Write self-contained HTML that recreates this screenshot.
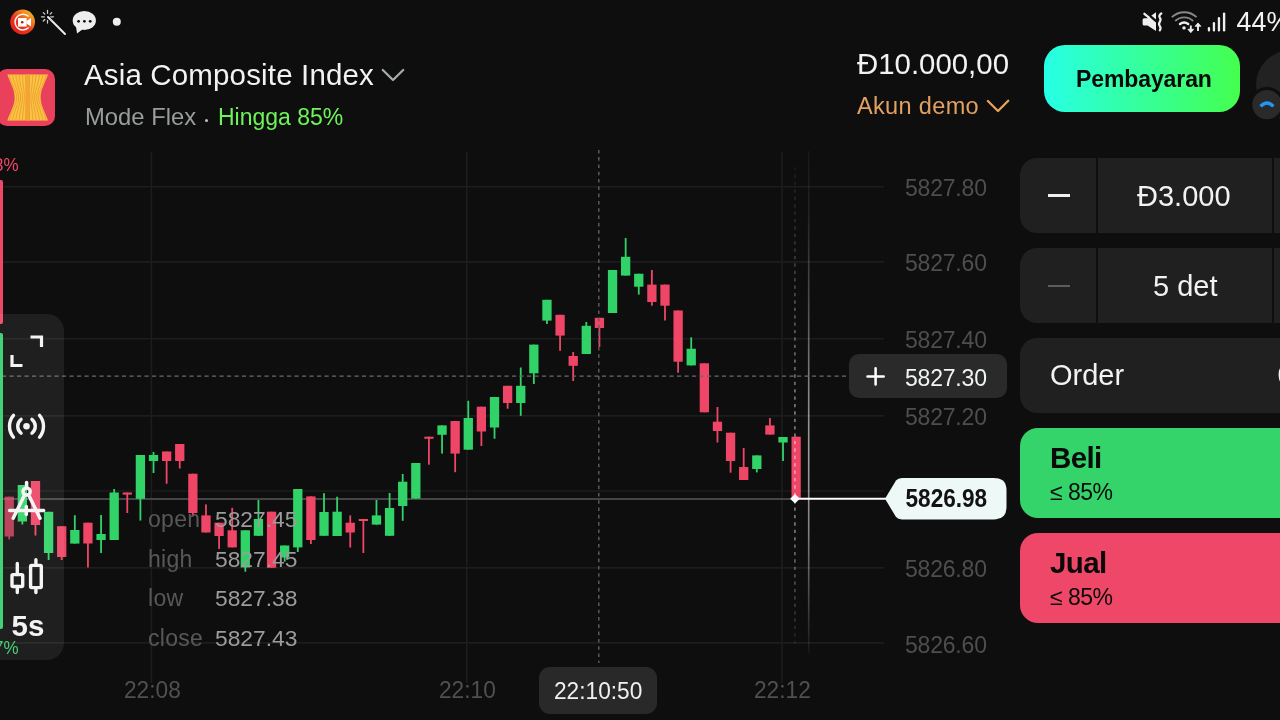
<!DOCTYPE html>
<html><head><meta charset="utf-8">
<style>
*{margin:0;padding:0;box-sizing:border-box}
html,body{width:1280px;height:720px;overflow:hidden;background:#0e0e0e;font-family:"Liberation Sans",sans-serif;color:#f2f2f2}
.a{position:absolute;white-space:nowrap}
#chart{position:absolute;left:0;top:0}
.ax{font-size:23px;letter-spacing:-0.2px;color:#4e4e4e}
.tl{font-size:22.7px;color:#505050;transform:scaleY(1.06);transform-origin:0 0}
.ohl{font-size:23px;letter-spacing:0.3px;color:#585858}
.ohv{font-size:22.8px;color:#9c9c9c}
.box{position:absolute;background:#202020;border-radius:17px}
</style></head><body><div id="root" style="position:absolute;left:0;top:0;width:1280px;height:720px;will-change:transform">
<svg id="chart" width="1280" height="720" viewBox="0 0 1280 720">
<!-- grid -->
<g stroke="#1d1d1d" stroke-width="1.6">
<line x1="0" y1="186.7" x2="884" y2="186.7"/>
<line x1="0" y1="261.9" x2="884" y2="261.9"/>
<line x1="0" y1="338.8" x2="884" y2="338.8"/>
<line x1="0" y1="415.9" x2="884" y2="415.9"/>
<line x1="0" y1="491" x2="884" y2="491"/>
<line x1="0" y1="567.9" x2="884" y2="567.9"/>
<line x1="0" y1="642.9" x2="884" y2="642.9"/>
<line x1="151.4" y1="152" x2="151.4" y2="683"/>
<line x1="466.8" y1="152" x2="466.8" y2="683"/>
<line x1="781.9" y1="152" x2="781.9" y2="683"/>
</g>
<!-- current price line gray -->
<line x1="0" y1="498.9" x2="795" y2="498.9" stroke="#454545" stroke-width="2"/>
<!-- current time vertical line -->
<defs>
<linearGradient id="vg1" gradientUnits="userSpaceOnUse" x1="0" y1="151" x2="0" y2="654">
<stop offset="0" stop-color="#fff" stop-opacity="0.04"/>
<stop offset="0.14" stop-color="#fff" stop-opacity="0.1"/>
<stop offset="0.31" stop-color="#fff" stop-opacity="0.28"/>
<stop offset="0.48" stop-color="#fff" stop-opacity="0.5"/>
<stop offset="0.6" stop-color="#fff" stop-opacity="0.6"/>
<stop offset="0.76" stop-color="#fff" stop-opacity="0.48"/>
<stop offset="0.9" stop-color="#fff" stop-opacity="0.22"/>
<stop offset="1" stop-color="#fff" stop-opacity="0.04"/>
</linearGradient>
<linearGradient id="vg2" gradientUnits="userSpaceOnUse" x1="0" y1="165" x2="0" y2="646">
<stop offset="0" stop-color="#fff" stop-opacity="0.06"/>
<stop offset="0.12" stop-color="#fff" stop-opacity="0.12"/>
<stop offset="0.3" stop-color="#fff" stop-opacity="0.3"/>
<stop offset="0.48" stop-color="#fff" stop-opacity="0.45"/>
<stop offset="0.6" stop-color="#fff" stop-opacity="0.5"/>
<stop offset="0.77" stop-color="#fff" stop-opacity="0.45"/>
<stop offset="0.91" stop-color="#fff" stop-opacity="0.2"/>
<stop offset="1" stop-color="#fff" stop-opacity="0.06"/>
</linearGradient>
</defs>
<line x1="808.7" y1="151" x2="808.7" y2="654" stroke="url(#vg1)" stroke-width="1.6"/>
<!-- CANDLES -->
<g fill="#ef4566" opacity="0.75"><rect x="8.35" y="496.70" width="1.8" height="42.70"/><rect x="4.60" y="496.70" width="9.3" height="39.80"/></g>
<g fill="#31d368"><rect x="21.47" y="485.00" width="1.8" height="39.50"/><rect x="17.71" y="485.00" width="9.3" height="36.50"/></g>
<g fill="#ef4566"><rect x="34.58" y="481.00" width="1.8" height="54.50"/><rect x="30.83" y="481.00" width="9.3" height="44.00"/></g>
<g fill="#31d368"><rect x="47.70" y="511.80" width="1.8" height="48.20"/><rect x="43.95" y="511.80" width="9.3" height="41.20"/></g>
<g fill="#ef4566"><rect x="60.81" y="526.20" width="1.8" height="33.80"/><rect x="57.06" y="526.20" width="9.3" height="30.80"/></g>
<g fill="#31d368"><rect x="73.92" y="515.20" width="1.8" height="28.40"/><rect x="70.17" y="530.00" width="9.3" height="13.60"/></g>
<g fill="#ef4566"><rect x="87.04" y="522.70" width="1.8" height="44.80"/><rect x="83.29" y="522.70" width="9.3" height="20.80"/></g>
<g fill="#31d368"><rect x="100.16" y="515.00" width="1.8" height="38.00"/><rect x="96.41" y="534.00" width="9.3" height="6.00"/></g>
<g fill="#31d368"><rect x="113.27" y="489.00" width="1.8" height="51.00"/><rect x="109.52" y="492.50" width="9.3" height="47.50"/></g>
<g fill="#ef4566"><rect x="126.38" y="492.50" width="1.8" height="20.50"/><rect x="122.63" y="492.50" width="9.3" height="2.10"/></g>
<g fill="#31d368"><rect x="139.50" y="455.00" width="1.8" height="65.60"/><rect x="135.75" y="455.00" width="9.3" height="43.75"/></g>
<g fill="#31d368"><rect x="152.62" y="452.00" width="1.8" height="21.00"/><rect x="148.87" y="455.00" width="9.3" height="6.00"/></g>
<g fill="#ef4566"><rect x="165.73" y="451.50" width="1.8" height="32.25"/><rect x="161.98" y="451.50" width="9.3" height="9.50"/></g>
<g fill="#ef4566"><rect x="178.84" y="444.00" width="1.8" height="24.50"/><rect x="175.09" y="444.00" width="9.3" height="17.00"/></g>
<g fill="#ef4566"><rect x="191.96" y="473.75" width="1.8" height="42.75"/><rect x="188.21" y="473.75" width="9.3" height="39.25"/></g>
<g fill="#ef4566"><rect x="205.07" y="504.40" width="1.8" height="28.10"/><rect x="201.32" y="515.40" width="9.3" height="17.10"/></g>
<g fill="#ef4566"><rect x="218.19" y="522.70" width="1.8" height="26.30"/><rect x="214.44" y="522.70" width="9.3" height="13.30"/></g>
<g fill="#ef4566"><rect x="231.31" y="507.80" width="1.8" height="39.60"/><rect x="227.56" y="530.30" width="9.3" height="17.10"/></g>
<g fill="#31d368"><rect x="244.42" y="530.30" width="1.8" height="41.40"/><rect x="240.67" y="530.30" width="9.3" height="37.20"/></g>
<g fill="#31d368"><rect x="257.54" y="500.00" width="1.8" height="35.80"/><rect x="253.78" y="519.00" width="9.3" height="16.80"/></g>
<g fill="#ef4566"><rect x="270.65" y="511.70" width="1.8" height="56.10"/><rect x="266.90" y="511.70" width="9.3" height="56.10"/></g>
<g fill="#31d368"><rect x="283.77" y="545.50" width="1.8" height="16.20"/><rect x="280.02" y="545.50" width="9.3" height="12.00"/></g>
<g fill="#31d368"><rect x="296.88" y="489.00" width="1.8" height="63.00"/><rect x="293.13" y="489.00" width="9.3" height="58.40"/></g>
<g fill="#ef4566"><rect x="310.00" y="496.40" width="1.8" height="47.60"/><rect x="306.25" y="496.40" width="9.3" height="43.60"/></g>
<g fill="#31d368"><rect x="323.11" y="493.20" width="1.8" height="42.60"/><rect x="319.36" y="512.00" width="9.3" height="23.80"/></g>
<g fill="#31d368"><rect x="336.23" y="496.70" width="1.8" height="39.30"/><rect x="332.48" y="511.70" width="9.3" height="24.30"/></g>
<g fill="#ef4566"><rect x="349.34" y="515.40" width="1.8" height="32.10"/><rect x="345.59" y="522.70" width="9.3" height="9.80"/></g>
<g fill="#ef4566"><rect x="362.46" y="519.00" width="1.8" height="34.00"/><rect x="358.71" y="519.00" width="9.3" height="2.00"/></g>
<g fill="#31d368"><rect x="375.57" y="500.00" width="1.8" height="24.60"/><rect x="371.82" y="515.40" width="9.3" height="9.20"/></g>
<g fill="#31d368"><rect x="388.69" y="493.00" width="1.8" height="42.80"/><rect x="384.94" y="508.00" width="9.3" height="27.80"/></g>
<g fill="#31d368"><rect x="401.80" y="474.00" width="1.8" height="46.80"/><rect x="398.05" y="481.70" width="9.3" height="24.30"/></g>
<g fill="#31d368"><rect x="414.92" y="463.00" width="1.8" height="35.60"/><rect x="411.17" y="463.00" width="9.3" height="35.60"/></g>
<g fill="#ef4566"><rect x="428.03" y="436.70" width="1.8" height="28.00"/><rect x="424.28" y="436.70" width="9.3" height="2.05"/></g>
<g fill="#31d368"><rect x="441.15" y="425.40" width="1.8" height="28.20"/><rect x="437.40" y="425.40" width="9.3" height="9.40"/></g>
<g fill="#ef4566"><rect x="454.26" y="421.00" width="1.8" height="51.20"/><rect x="450.51" y="421.00" width="9.3" height="32.60"/></g>
<g fill="#31d368"><rect x="467.38" y="400.80" width="1.8" height="48.90"/><rect x="463.63" y="418.00" width="9.3" height="31.70"/></g>
<g fill="#ef4566"><rect x="480.49" y="406.70" width="1.8" height="39.30"/><rect x="476.74" y="406.70" width="9.3" height="24.80"/></g>
<g fill="#31d368"><rect x="493.61" y="397.00" width="1.8" height="41.75"/><rect x="489.86" y="397.00" width="9.3" height="30.50"/></g>
<g fill="#ef4566"><rect x="506.72" y="385.80" width="1.8" height="22.95"/><rect x="502.97" y="385.80" width="9.3" height="17.20"/></g>
<g fill="#31d368"><rect x="519.84" y="367.50" width="1.8" height="48.30"/><rect x="516.09" y="385.80" width="9.3" height="17.20"/></g>
<g fill="#31d368"><rect x="532.95" y="344.60" width="1.8" height="39.40"/><rect x="529.20" y="344.60" width="9.3" height="28.70"/></g>
<g fill="#31d368"><rect x="546.07" y="299.80" width="1.8" height="24.20"/><rect x="542.32" y="299.80" width="9.3" height="20.80"/></g>
<g fill="#ef4566"><rect x="559.18" y="314.80" width="1.8" height="36.00"/><rect x="555.43" y="314.80" width="9.3" height="20.80"/></g>
<g fill="#ef4566"><rect x="572.30" y="352.00" width="1.8" height="29.00"/><rect x="568.55" y="356.00" width="9.3" height="9.80"/></g>
<g fill="#31d368"><rect x="585.41" y="322.00" width="1.8" height="32.00"/><rect x="581.66" y="325.80" width="9.3" height="28.20"/></g>
<g fill="#ef4566"><rect x="598.52" y="317.80" width="1.8" height="29.20"/><rect x="594.77" y="317.80" width="9.3" height="10.20"/></g>
<g fill="#31d368"><rect x="611.64" y="270.00" width="1.8" height="43.00"/><rect x="607.89" y="270.00" width="9.3" height="43.00"/></g>
<g fill="#31d368"><rect x="624.75" y="238.00" width="1.8" height="37.60"/><rect x="621.00" y="256.80" width="9.3" height="18.80"/></g>
<g fill="#31d368"><rect x="637.87" y="273.75" width="1.8" height="20.85"/><rect x="634.12" y="273.75" width="9.3" height="12.95"/></g>
<g fill="#ef4566"><rect x="650.99" y="270.00" width="1.8" height="35.70"/><rect x="647.24" y="284.60" width="9.3" height="17.40"/></g>
<g fill="#ef4566"><rect x="664.10" y="284.60" width="1.8" height="35.90"/><rect x="660.35" y="284.60" width="9.3" height="21.10"/></g>
<g fill="#ef4566"><rect x="677.22" y="310.50" width="1.8" height="62.20"/><rect x="673.47" y="310.50" width="9.3" height="51.20"/></g>
<g fill="#31d368"><rect x="690.33" y="337.30" width="1.8" height="28.10"/><rect x="686.58" y="348.75" width="9.3" height="16.65"/></g>
<g fill="#ef4566"><rect x="703.45" y="363.30" width="1.8" height="49.00"/><rect x="699.70" y="363.30" width="9.3" height="49.00"/></g>
<g fill="#ef4566"><rect x="716.56" y="407.00" width="1.8" height="35.50"/><rect x="712.81" y="421.70" width="9.3" height="9.30"/></g>
<g fill="#ef4566"><rect x="729.68" y="432.70" width="1.8" height="40.00"/><rect x="725.93" y="432.70" width="9.3" height="28.30"/></g>
<g fill="#ef4566"><rect x="742.79" y="448.00" width="1.8" height="32.00"/><rect x="739.04" y="467.00" width="9.3" height="13.00"/></g>
<g fill="#31d368"><rect x="755.91" y="455.40" width="1.8" height="17.00"/><rect x="752.16" y="455.40" width="9.3" height="13.60"/></g>
<g fill="#ef4566"><rect x="769.02" y="418.00" width="1.8" height="16.60"/><rect x="765.27" y="425.40" width="9.3" height="9.20"/></g>
<g fill="#31d368"><rect x="782.13" y="437.00" width="1.8" height="24.00"/><rect x="778.38" y="437.00" width="9.3" height="5.50"/></g>
<g fill="#ef4566"><rect x="795.25" y="436.70" width="1.8" height="61.30"/><rect x="791.50" y="436.70" width="9.3" height="61.30"/></g>
<!-- crosshair -->
<line x1="598.8" y1="150" x2="598.8" y2="663" stroke="#5e5e5e" stroke-width="1.4" stroke-dasharray="3.6 3.7" stroke-dashoffset="0.2"/>
<line x1="0" y1="376.2" x2="850" y2="376.2" stroke="#6a6a6a" stroke-width="1.3" stroke-dasharray="4.2 3.3" stroke-dashoffset="-1.96"/>
<line x1="794.9" y1="165" x2="794.9" y2="646" stroke="url(#vg2)" stroke-width="1.6" stroke-dasharray="3.3 4.1" stroke-dashoffset="-2.15"/>
<!-- current price white -->
<line x1="795" y1="498.8" x2="886" y2="498.8" stroke="#ffffff" stroke-width="2"/>
<rect x="791.6" y="495.4" width="6.8" height="6.8" fill="#ffffff" transform="rotate(45 795 498.8)"/>
<!-- price tag -->
<path d="M885 498.8 L896 480.5 Q898 478 902 478 H994 Q1006.5 478 1006.5 490.5 V507 Q1006.5 519.4 994 519.4 H902 Q898 519.4 896 517 Z" fill="#eef8f6"/>
</svg>

<!-- left side bars -->
<div class="a" style="left:0;top:180;"></div>
<div class="a" style="left:0;top:180px;width:3px;height:144px;background:#ee4868;border-radius:0 2px 2px 0"></div>
<div class="a" style="left:0;top:333px;width:2.8px;height:296px;background:#36cf6b;border-radius:0 2px 2px 0"></div>
<div class="a" style="left:-6px;top:155px;font-size:17px;color:#ee4868;transform:scaleY(1.08);transform-origin:0 0">3%</div>
<div class="a" style="left:-6px;top:637.8px;font-size:17px;color:#36cf6b;transform:scaleY(1.08);transform-origin:0 0">7%</div>

<!-- toolbar panel -->
<div class="a" style="left:-20px;top:314px;width:84px;height:346px;background:rgba(255,255,255,0.075);border-radius:17px"></div>

<!-- axis labels -->
<div class="a ax" style="left:905px;top:174.8px">5827.80</div>
<div class="a ax" style="left:905px;top:250.0px">5827.60</div>
<div class="a ax" style="left:905px;top:326.5px">5827.40</div>
<div class="a ax" style="left:905px;top:403.5px">5827.20</div>
<div class="a ax" style="left:905px;top:555.5px">5826.80</div>
<div class="a ax" style="left:905px;top:631.5px">5826.60</div>

<!-- crosshair price box -->
<div class="a" style="left:849.3px;top:354.2px;width:157.7px;height:44.2px;background:#2a2a2a;border-radius:10px"></div>
<svg class="a" style="left:864px;top:364px" width="24" height="24" viewBox="864 364 24 24"><path d="M875.6 368.3 V384.5 M867.5 376.4 H883.7" stroke="#ffffff" stroke-width="2.5" stroke-linecap="round"/></svg>
<div class="a ax" style="left:905px;top:364.5px;color:#f0f4f2">5827.30</div>
<div class="a" style="left:905.5px;top:485.5px;font-size:22.6px;font-weight:bold;color:#121212;transform:scaleY(1.12);transform-origin:0 50%">5826.98</div>

<!-- OHLC -->
<div class="a ohl" style="left:148px;top:506px">open</div>
<div class="a ohl" style="left:148px;top:545.5px">high</div>
<div class="a ohl" style="left:148px;top:585px">low</div>
<div class="a ohl" style="left:148px;top:624.5px">close</div>
<div class="a ohv" style="left:215px;top:506px">5827.45</div>
<div class="a ohv" style="left:215px;top:545.5px">5827.45</div>
<div class="a ohv" style="left:215px;top:585px">5827.38</div>
<div class="a ohv" style="left:215px;top:624.5px">5827.43</div>

<!-- time labels -->
<div class="a tl" style="left:124px;top:676.3px">22:08</div>
<div class="a tl" style="left:439px;top:676.3px">22:10</div>
<div class="a tl" style="left:754px;top:676.3px">22:12</div>
<div class="a" style="left:539px;top:667px;width:118px;height:47px;background:#292929;border-radius:11px"></div>
<div class="a" style="left:554px;top:677px;font-size:22.7px;color:#f0f0f0;transform:scaleY(1.06);transform-origin:0 0">22:10:50</div>

<!-- header -->
<div class="a" style="left:84px;top:58px;font-size:29.5px;letter-spacing:0.15px;color:#f2f2f2">Asia Composite Index</div>
<svg class="a" style="left:378px;top:64px" width="30" height="22" viewBox="378 64 30 22"><path d="M382.8 70 L393 80 L403.2 70" fill="none" stroke="#a6acaa" stroke-width="2.3" stroke-linecap="round" stroke-linejoin="round"/></svg>
<div class="a" style="left:85px;top:102.7px;font-size:23.8px;color:#979d9b">Mode Flex</div>
<div class="a" style="left:204.9px;top:118.9px;width:3.2px;height:3.2px;border-radius:50%;background:#c4c4c4"></div>
<div class="a" style="left:218px;top:104.3px;font-size:23px;color:#6ef45a">Hingga 85%</div>

<div class="a" style="left:857px;top:46.5px;font-size:29.4px;color:#f2f2f2">Đ10.000,00</div>
<div class="a" style="left:857px;top:92.5px;font-size:23.5px;letter-spacing:0.35px;color:#e2a163">Akun demo</div>
<svg class="a" style="left:984px;top:96px" width="28" height="20" viewBox="984 96 28 20"><path d="M987.9 101 L998 111 L1008.2 100.8" fill="none" stroke="#e9a25c" stroke-width="2.3" stroke-linecap="round" stroke-linejoin="round"/></svg>

<div class="a" style="left:1044px;top:44.8px;width:196px;height:67.7px;border-radius:21px;background:linear-gradient(90deg,#26ffe6 0%,#30ffb8 30%,#38ff8c 60%,#44ff4e 100%)"></div>
<div class="a" style="left:1076px;top:66px;font-size:23px;font-weight:bold;letter-spacing:-0.1px;color:#0a0a0a">Pembayaran</div>

<!-- right controls -->
<div class="box" style="left:1019.5px;top:158px;width:300px;height:75px"></div>
<div class="a" style="left:1095.5px;top:158px;width:2.5px;height:75px;background:#0e0e0e"></div>
<div class="a" style="left:1271.5px;top:158px;width:2.5px;height:75px;background:#0e0e0e"></div>
<div class="a" style="left:1048px;top:194px;width:21.5px;height:3px;background:#f0f0f0"></div>
<div class="a" style="left:1137px;top:180px;font-size:29px;color:#f2f2f2">Đ3.000</div>

<div class="box" style="left:1019.5px;top:248px;width:300px;height:74.5px"></div>
<div class="a" style="left:1095.5px;top:248px;width:2.5px;height:74.5px;background:#0e0e0e"></div>
<div class="a" style="left:1271.5px;top:248px;width:2.5px;height:74.5px;background:#0e0e0e"></div>
<div class="a" style="left:1048px;top:284.5px;width:22px;height:2.5px;background:#5c5c5c"></div>
<div class="a" style="left:1153px;top:270px;font-size:29px;color:#f2f2f2">5 det</div>

<div class="box" style="left:1019.5px;top:338px;width:300px;height:74.5px"></div>
<div class="a" style="left:1050px;top:359px;font-size:29px;color:#f2f2f2">Order</div>
<div class="a" style="left:1277.5px;top:359px;font-size:29px;color:#f2f2f2">0</div>

<div class="box" style="left:1019.5px;top:427.5px;width:300px;height:90px;background:#35d46b;border-radius:18px"></div>
<div class="a" style="left:1050px;top:440.5px;font-size:29.5px;font-weight:bold;letter-spacing:-0.6px;color:#0a0a0a">Beli</div>
<div class="a" style="left:1050px;top:478.7px;font-size:23px;letter-spacing:-0.5px;color:#0a0a0a">≤ 85%</div>

<div class="box" style="left:1019.5px;top:533px;width:300px;height:90px;background:#ef4767;border-radius:18px"></div>
<div class="a" style="left:1050px;top:545.5px;font-size:29.5px;font-weight:bold;letter-spacing:-0.6px;color:#0a0a0a">Jual</div>
<div class="a" style="left:1050px;top:583.7px;font-size:23px;letter-spacing:-0.5px;color:#0a0a0a">≤ 85%</div>


<!-- toolbar icons -->
<svg class="a" style="left:0;top:320px" width="64" height="340" viewBox="0 320 64 340">
<g fill="none" stroke="#f4f4f4" stroke-width="3.2" stroke-linecap="butt">
<path d="M30.5 337 H41.5 V347"/>
<path d="M12 355 V365.5 H22.5"/>
</g>
<g fill="none" stroke="#f4f4f4" stroke-width="3.4" stroke-linecap="round"><path d="M13.48 437.23 A17 17 0 0 1 13.48 415.37"/><path d="M39.52 437.23 A17 17 0 0 0 39.52 415.37"/><path d="M21.08 433.23 A8.8 8.8 0 0 1 21.08 419.37"/><path d="M31.92 433.23 A8.8 8.8 0 0 0 31.92 419.37"/></g>
<circle cx="26.5" cy="426.3" r="3.3" fill="#f4f4f4"/>
<g fill="none" stroke="#f4f4f4" stroke-width="3.5" stroke-linecap="round">
<path d="M26.6 482.5 V487"/>
<circle cx="26.6" cy="491.5" r="3.6"/>
<path d="M24.3 495.5 L13.2 518.2 M28.9 495.5 L40 518.2"/>
<path d="M9.6 510.6 H43.6"/>
<path d="M26.3 506.5 V514.5"/>
</g>
<g fill="none" stroke="#f4f4f4" stroke-width="3.4" stroke-linecap="round" stroke-linejoin="round">
<path d="M17.3 563.5 V574.6 M17.3 586.5 V592.6 M35.9 559.7 V565.4 M35.9 587.6 V592.6"/>
<rect x="12" y="574.6" width="10.7" height="11.9" rx="1"/>
<rect x="30.6" y="565.4" width="10.7" height="22.2" rx="1"/>
</g>
</svg>
<div class="a" style="left:11.6px;top:609.2px;font-size:29.5px;font-weight:bold;color:#f4f4f4">5s</div>

<!-- logo -->
<svg class="a" style="left:-3px;top:68px" width="60" height="60" viewBox="-3 68 60 60">
<rect x="-3" y="69" width="58" height="57" rx="10" fill="#e9405b"/>
<path d="M7.3 74.6 H48 C44.5 84 40.6 90 40.6 97.5 C40.6 105 44.5 111 48 120.4 H7.3 C10.8 111 14.7 105 14.7 97.5 C14.7 90 10.8 84 7.3 74.6 Z" fill="#f8c640"/>
<rect x="25.6" y="74.6" width="4.1" height="45.8" fill="#f3a735"/>
<g stroke="#f29a34" stroke-width="0.9" fill="none">
<path d="M9.2 74.6 C11.5 86 16.8 91 16.8 97.5 C16.8 104 11.5 109 9.2 120.4"/>
<path d="M46.1 74.6 C43.8 86 38.5 91 38.5 97.5 C38.5 104 43.8 109 46.1 120.4"/>
<path d="M12.5 74.6 C14.4 86 18.7 91 18.7 97.5 C18.7 104 14.4 109 12.5 120.4"/>
<path d="M42.8 74.6 C40.9 86 36.6 91 36.6 97.5 C36.6 104 40.9 109 42.8 120.4"/>
<path d="M15.8 74.6 C17.2 86 20.6 91 20.6 97.5 C20.6 104 17.2 109 15.8 120.4"/>
<path d="M39.5 74.6 C38.1 86 34.7 91 34.7 97.5 C34.7 104 38.1 109 39.5 120.4"/>
<path d="M19.1 74.6 C20.1 86 22.5 91 22.5 97.5 C22.5 104 20.1 109 19.1 120.4"/>
<path d="M36.2 74.6 C35.2 86 32.8 91 32.8 97.5 C32.8 104 35.2 109 36.2 120.4"/>
<path d="M22.4 74.6 C23.0 86 24.4 91 24.4 97.5 C24.4 104 23.0 109 22.4 120.4"/>
<path d="M32.9 74.6 C32.3 86 30.9 91 30.9 97.5 C30.9 104 32.3 109 32.9 120.4"/>
<path d="M25.7 74.6 C25.9 86 26.3 91 26.3 97.5 C26.3 104 25.9 109 25.7 120.4"/>
<path d="M29.6 74.6 C29.4 86 29.0 91 29.0 97.5 C29.0 104 29.4 109 29.6 120.4"/>
</g>
</svg>

<!-- status left icons -->
<svg class="a" style="left:0;top:0" width="130" height="40" viewBox="0 0 130 40">
<defs><linearGradient id="og" x1="0.85" y1="0.1" x2="0.2" y2="0.85"><stop offset="0" stop-color="#f6b524"/><stop offset="0.35" stop-color="#ef6d1f"/><stop offset="0.6" stop-color="#e8381e"/><stop offset="1" stop-color="#e2261c"/></linearGradient></defs>
<circle cx="22.6" cy="22" r="12.4" fill="url(#og)"/>
<path d="M28.6 16.6 A7.9 7.9 0 1 0 28.6 27.6" fill="none" stroke="#fff" stroke-width="1.5" opacity="0.95"/>
<rect x="18" y="18" width="8.6" height="8.6" fill="#fff"/>
<path d="M26.4 21 L31 18 V26.6 L26.4 23.6 Z" fill="#fff"/>
<circle cx="22.2" cy="22.2" r="1.3" fill="#9a2a18"/>
<g stroke="#eeeeee" stroke-width="1.6" stroke-linecap="round">
<path d="M48 17 L65 34" stroke-width="2"/>
<path d="M47.5 10.5 V13.3 M47.5 20.3 V23 M41.5 16.8 H44.3 M50.7 16.8 H53.5 M43.3 12.6 L44.8 14.1 M50.2 19.5 L51.7 21 M51.7 12.6 L50.2 14.1 M44.8 19.5 L43.3 21" stroke="#cfcfcf" stroke-width="1.3"/>
</g>
<ellipse cx="84.3" cy="20.5" rx="11.6" ry="9.6" fill="#eeeeee"/>
<path d="M76 26 L77 33.5 L83 29 Z" fill="#eeeeee"/>
<circle cx="78.6" cy="21.3" r="1.4" fill="#111"/>
<circle cx="84.4" cy="21.3" r="1.4" fill="#111"/>
<circle cx="90.2" cy="21.3" r="1.4" fill="#111"/>
<circle cx="116.8" cy="21.8" r="4" fill="#eeeeee"/>
</svg>

<!-- status right icons -->
<svg class="a" style="left:1138px;top:8px" width="92" height="28" viewBox="1138 8 92 28">
<path d="M1144.2 18.2 H1147.6 L1156 12.3 V31 L1147.6 25.6 H1144.2 Q1142.6 25.6 1142.6 24 V19.8 Q1142.6 18.2 1144.2 18.2 Z" fill="#eeeeee"/>
<path d="M1145.6 12.2 L1157.6 22.4" stroke="#0e0e0e" stroke-width="2.4"/>
<path d="M1144.4 13.8 L1149 17.7" stroke="#eeeeee" stroke-width="2.3" stroke-linecap="round"/>
<path d="M1161.3 13.5 Q1158.3 15.6 1159.8 17.7 Q1161.3 19.8 1159.8 21.9 Q1158.3 24 1159.8 26.1 Q1161.3 28.2 1159.8 30.3" fill="none" stroke="#eeeeee" stroke-width="2.2" stroke-linecap="round"/>
<path d="M1171.8 17.2 A18 18 0 0 1 1196.6 17.2" fill="none" stroke="#888" stroke-width="1.8"/>
<path d="M1175.2 21 A13 13 0 0 1 1193.2 21" fill="none" stroke="#888" stroke-width="1.8"/>
<path d="M1180 24 A7 7 0 0 1 1188.2 24" fill="none" stroke="#eeeeee" stroke-width="2.4" stroke-linecap="round"/>
<circle cx="1184" cy="27.9" r="1.7" fill="#eee"/>
<path d="M1190.8 25.5 V31" fill="none" stroke="#eee" stroke-width="1.9"/>
<path d="M1187.9 29.3 L1190.8 32.7 L1193.7 29.3 Z" fill="#eee" stroke="#eee" stroke-width="0.8" stroke-linejoin="round"/>
<path d="M1198 24.5 V31" fill="none" stroke="#eee" stroke-width="1.9"/>
<path d="M1195.1 26.3 L1198 22.9 L1200.9 26.3 Z" fill="#eee" stroke="#eee" stroke-width="0.8" stroke-linejoin="round"/>
<g fill="#eeeeee">
<rect x="1207.8" y="27.1" width="2.3" height="4.4" rx="1.1"/>
<rect x="1212.8" y="22.1" width="2.3" height="9.4" rx="1.1"/>
<rect x="1217.8" y="17.1" width="2.3" height="14.4" rx="1.1"/>
<rect x="1222.9" y="12.4" width="2.4" height="19.1" rx="1.1"/>
</g>
</svg>

<!-- avatar -->
<svg class="a" style="left:1240px;top:45px" width="40" height="85" viewBox="1240 45 40 85">
<circle cx="1291" cy="85" r="35" fill="#222222"/>
<circle cx="1267" cy="104.6" r="17.6" fill="#0e0e0e"/>
<circle cx="1267" cy="104.6" r="14.7" fill="#2a2a2a"/>
<path d="M1260.6 106.3 Q1267 99.6 1273.4 106.3" fill="none" stroke="#2196f3" stroke-width="3.4"/>
</svg>

<!-- status bar -->
<div class="a" style="left:1236.6px;top:6.8px;font-size:26.8px;color:#f2f2f2">44%</div>
</div></body></html>
